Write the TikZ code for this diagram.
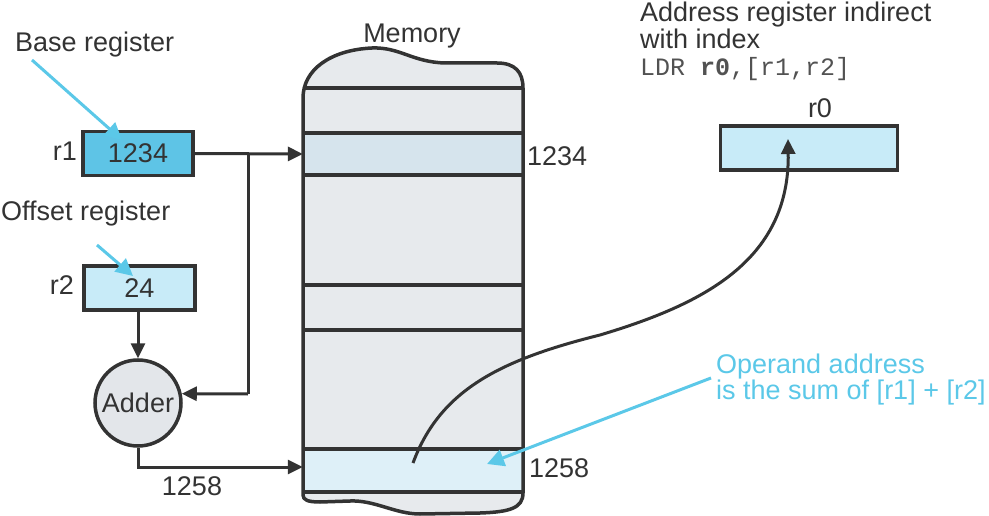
\documentclass[tikz,border=0pt]{standalone}
\usepackage{fontspec}
\setmainfont{Liberation Sans}
\setmonofont{Liberation Mono}
\usetikzlibrary{arrows.meta}
\definecolor{txt}{HTML}{333333}
\definecolor{cyanline}{HTML}{5BC8E8}
\definecolor{memfill}{HTML}{E7EAED}
\definecolor{rowA}{HTML}{D6E4ED}
\definecolor{rowB}{HTML}{DEF0F8}
\definecolor{regdark}{HTML}{5EC4E6}
\definecolor{reglight}{HTML}{C8EBF8}
\definecolor{adderfill}{HTML}{E3E6EA}
\begin{document}
\begin{tikzpicture}[x=1pt,y=-1pt,
  every node/.style={text=txt,font=\fontsize{27}{30}\selectfont,inner sep=0pt},
  regbox/.style={draw=txt,line width=3.5pt,minimum height=44pt},
  lbl/.style={anchor=base west},
  conn/.style={draw=txt,line width=3pt,-{Triangle[length=15pt,width=14pt]}},
  plainconn/.style={draw=txt,line width=3pt},
  cyanarrow/.style={draw=cyanline,line width=3pt,-{Triangle[length=17pt,width=17pt]}},
  memline/.style={draw=txt,line width=3.5pt}
]
\useasboundingbox (0,0) rectangle (989,516);

% memory body
\path[fill=memfill] (303,495) -- (303,98) .. controls (303,70) and (330,50) .. (372,48)
  .. controls (400,47) and (412,62) .. (445,63) -- (497,63)
  .. controls (515,63) and (523,72) .. (523,88) -- (523,493)
  .. controls (523,508) and (510,512) .. (480,513) -- (420,514)
  .. controls (395,514) and (375,500) .. (350,501) -- (320,502)
  .. controls (308,502) and (303,500) .. (303,495) -- cycle;
\node[fill=rowA,minimum width=220pt,minimum height=42pt] (row1234) at (413,154) {};
\node[fill=rowB,minimum width=220pt,minimum height=43pt] (row1258) at (413,470.5) {};
\draw[memline,line join=round] (303,495) -- (303,98) .. controls (303,70) and (330,50) .. (372,48)
  .. controls (400,47) and (412,62) .. (445,63) -- (497,63)
  .. controls (515,63) and (523,72) .. (523,88) -- (523,493)
  .. controls (523,508) and (510,512) .. (480,513) -- (420,514)
  .. controls (395,514) and (375,500) .. (350,501) -- (320,502)
  .. controls (308,502) and (303,500) .. (303,495) -- cycle;
\foreach \yy in {88,133,175,285,330,449,492} \draw[memline] (303,\yy) -- (523,\yy);

\node[anchor=base] (memlbl) at (412,43) {Memory};
\node[anchor=west] (a1234) at (527,156) {1234};
\node[anchor=west] (a1258) at (529,468) {1258};

% registers
\node[regbox,fill=regdark,minimum width=110pt] (r1) at (138,153.5) {1234};
\node[anchor=east] (r1lbl) at (77,151) {r1};
\node[regbox,fill=reglight,minimum width=111pt] (r2) at (139.5,288) {24};
\node[anchor=east] (r2lbl) at (74,285) {r2};
\node[draw=txt,line width=3.5pt,circle,fill=adderfill,minimum size=86pt] (adder) at (138,403) {Adder};
\node (sum) at (192,486) {1258};

\node[lbl] (baselbl) at (15,52) {Base register};
\node[lbl] (offlbl) at (1,221) {Offset register};

% right side
\node[lbl] (t1) at (640,22) {Address register indirect};
\node[lbl] (t2) at (640,49) {with index};
\node[lbl,font=\fontsize{25}{30}\ttfamily,text=txt!85] (t3) at (640,76) {LDR \textbf{r0},[r1,r2]};
\node[regbox,fill=reglight,minimum width=177pt] (r0) at (809,148) {};
\node[anchor=base] (r0lbl) at (820,118) {r0};

\node[anchor=north west,align=left,text=cyanline,font=\fontsize{27}{25}\selectfont] (op) at (716,353.5)
  {Operand address\\is the sum of [r1] + [r2]};

% connectors
\coordinate (br) at (248,153.5);
\path[conn] (r1.east) -- (row1234.west);
\path[plainconn] (br) -- (248,394);
\path[conn] (248,394) -- (adder.12);
\path[conn] (r2.south -| adder.north) -- (adder.north);
\path[conn] (adder.south) |- (row1258.west |- 0,467);

\coordinate (curvestart) at (413,463);
\coordinate (r0tip) at (788,139);
\path[conn] (curvestart) .. controls (440,390) and (500,360) .. (600,335)
  .. controls (700,305) and (790,262) .. (r0tip);

\coordinate (basestart) at (32,60);
\coordinate (basetip) at (122,140);
\path[cyanarrow] (basestart) -- (basetip);
\coordinate (offstart) at (97,245);
\coordinate (offtip) at (133,276);
\path[cyanarrow] (offstart) -- (offtip);
\coordinate (opstart) at (711,378);
\coordinate (optip) at (487,464);
\path[cyanarrow] (opstart) -- (optip);
\end{tikzpicture}
\end{document}
